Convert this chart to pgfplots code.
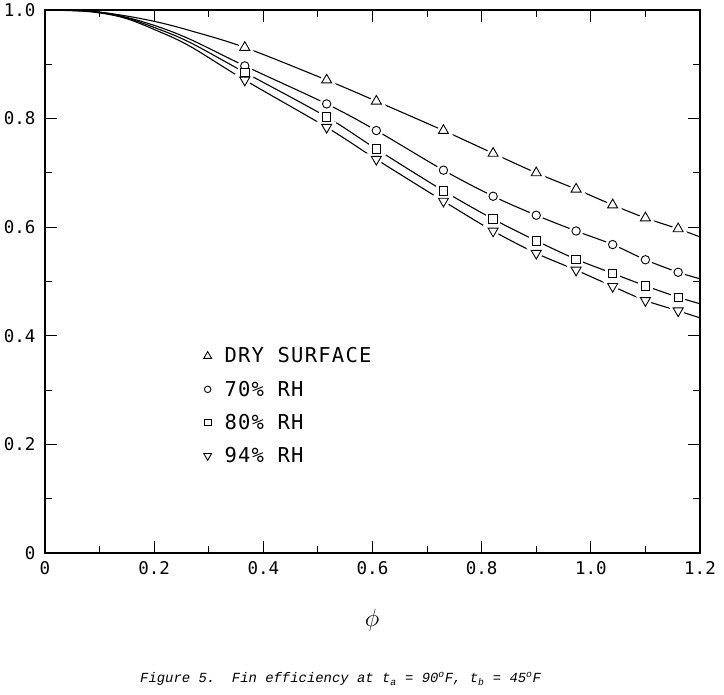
\documentclass[border=0pt]{standalone}
\usepackage{fontspec}
\setmainfont{DejaVu Sans Mono}
\newfontfamily\capfont{Liberation Mono}
\usepackage{pgfplots}
\pgfplotsset{compat=1.18}
\begin{document}
\begin{tikzpicture}
\pgfplotsset{
  curve/.style={black, line width=1.1pt, smooth, tension=0.55, no markers, forget plot},
  halo/.style={only marks, forget plot, mark options={draw=white, fill=white, line width=6pt}},
  mk/.style={only marks, black},
}
\begin{axis}[
  at={(0pt,0pt)}, anchor=south west,
  scale only axis, width=655pt, height=543pt,
  xmin=0, xmax=1.2, ymin=0, ymax=1.0,
  axis line style={line width=1.4pt},
  xtick={0,0.2,0.4,0.6,0.8,1.0,1.2},
  xticklabels={0,0.2,0.4,0.6,0.8,1.0,1.2},
  ytick={0,0.2,0.4,0.6,0.8,1.0},
  yticklabels={0,0.2,0.4,0.6,0.8,1.0},
  minor xtick={0.1,0.3,0.5,0.7,0.9,1.1},
  minor ytick={0.1,0.3,0.5,0.7,0.9},
  tick align=inside,
  major tick length=12pt, minor tick length=7pt,
  tick style={line width=1.1pt, black},
  ticklabel style={font=\fontsize{17.5}{17.5}\selectfont},
  xticklabel style={yshift=-5pt},
  yticklabel style={xshift=-6pt},
  /pgf/number format/assume math mode=true,
  legend style={draw=none, fill=none, at={(axis cs:0.2905,0.382)}, anchor=north west,
    font=\fontsize{20.5}{20.5}\selectfont\addfontfeature{LetterSpace=6}, row sep=12.5pt, inner sep=0pt,
    nodes={inner xsep=3pt},
    /tikz/every odd column/.append style={column sep=10pt}},
  legend image post style={/tikz/every mark/.append style={scale=0.78}},
  legend cell align=left,
]
% DRY SURFACE
\addplot[curve] coordinates {(0,1.0) (0.08,0.998) (0.143,0.990) (0.205,0.978) (0.266,0.962) (0.366,0.931) (0.516,0.871) (0.607,0.832) (0.730,0.778) (0.821,0.736) (0.900,0.700) (0.973,0.670) (1.040,0.641) (1.100,0.617) (1.160,0.597) (1.2,0.582)};
% 70% RH
\addplot[curve] coordinates {(0,1.0) (0.08,0.998) (0.143,0.988) (0.205,0.970) (0.266,0.946) (0.366,0.897) (0.516,0.827) (0.607,0.778) (0.730,0.705) (0.821,0.657) (0.900,0.622) (0.973,0.593) (1.040,0.568) (1.100,0.540) (1.160,0.517) (1.2,0.505)};
% 80% RH
\addplot[curve] coordinates {(0,1.0) (0.08,0.998) (0.143,0.987) (0.205,0.966) (0.266,0.940) (0.366,0.885) (0.516,0.803) (0.607,0.744) (0.730,0.667) (0.821,0.615) (0.900,0.575) (0.973,0.541) (1.040,0.515) (1.100,0.492) (1.160,0.471) (1.2,0.459)};
% 94% RH
\addplot[curve] coordinates {(0,1.0) (0.08,0.997) (0.143,0.986) (0.205,0.962) (0.266,0.933) (0.366,0.871) (0.516,0.784) (0.607,0.725) (0.730,0.648) (0.821,0.593) (0.900,0.552) (0.973,0.521) (1.040,0.491) (1.100,0.465) (1.160,0.446) (1.2,0.433)};

\addplot[halo, mark=triangle*, mark size=5.8pt] coordinates {(0.366,0.931) (0.516,0.871) (0.607,0.832) (0.730,0.778) (0.821,0.736) (0.900,0.700) (0.973,0.670) (1.040,0.641) (1.100,0.617) (1.160,0.597)};
\addplot[halo, mark=*, mark size=4.2pt] coordinates {(0.366,0.897) (0.516,0.827) (0.607,0.778) (0.730,0.705) (0.821,0.657) (0.900,0.622) (0.973,0.593) (1.040,0.568) (1.100,0.540) (1.160,0.517)};
\addplot[halo, mark=square*, mark size=4.2pt] coordinates {(0.366,0.885) (0.516,0.803) (0.607,0.744) (0.730,0.667) (0.821,0.615) (0.900,0.575) (0.973,0.541) (1.040,0.515) (1.100,0.492) (1.160,0.471)};
\addplot[only marks, forget plot, mark=triangle*, mark size=5.8pt, mark options={draw=white, fill=white, line width=6pt, rotate=180}] coordinates {(0.366,0.871) (0.516,0.784) (0.607,0.725) (0.730,0.648) (0.821,0.593) (0.900,0.552) (0.973,0.521) (1.040,0.491) (1.100,0.465) (1.160,0.446)};

\addplot[mk, mark=triangle*, mark size=5.8pt, mark options={fill=white, line width=0.9pt}] coordinates {(0.366,0.931) (0.516,0.871) (0.607,0.832) (0.730,0.778) (0.821,0.736) (0.900,0.700) (0.973,0.670) (1.040,0.641) (1.100,0.617) (1.160,0.597)};
\addlegendentry{DRY SURFACE}
\addplot[mk, mark=*, mark size=4.2pt, mark options={fill=white, line width=0.9pt}] coordinates {(0.366,0.897) (0.516,0.827) (0.607,0.778) (0.730,0.705) (0.821,0.657) (0.900,0.622) (0.973,0.593) (1.040,0.568) (1.100,0.540) (1.160,0.517)};
\addlegendentry{70\% RH}
\addplot[mk, mark=square*, mark size=4.2pt, mark options={fill=white, line width=0.9pt}] coordinates {(0.366,0.885) (0.516,0.803) (0.607,0.744) (0.730,0.667) (0.821,0.615) (0.900,0.575) (0.973,0.541) (1.040,0.515) (1.100,0.492) (1.160,0.471)};
\addlegendentry{80\% RH}
\addplot[mk, mark=triangle*, mark size=5.8pt, mark options={fill=white, line width=0.9pt, rotate=180}] coordinates {(0.366,0.871) (0.516,0.784) (0.607,0.725) (0.730,0.648) (0.821,0.593) (0.900,0.552) (0.973,0.521) (1.040,0.491) (1.100,0.465) (1.160,0.446)};
\addlegendentry{94\% RH}
\end{axis}
\node at (327pt,-67pt) {\fontsize{34}{34}\selectfont$\phi$};
\node[anchor=base west, inner sep=0pt] at (95pt,-130pt) {\capfont\itshape\fontsize{13.9}{13.9}\selectfont Figure 5.\ \ Fin efficiency at t\textsubscript{a} = 90\textsuperscript{o}F, t\textsubscript{b} = 45\textsuperscript{o}F};
\path[use as bounding box] (-45pt,-142pt) rectangle (679pt,553pt);
\end{tikzpicture}
\end{document}
